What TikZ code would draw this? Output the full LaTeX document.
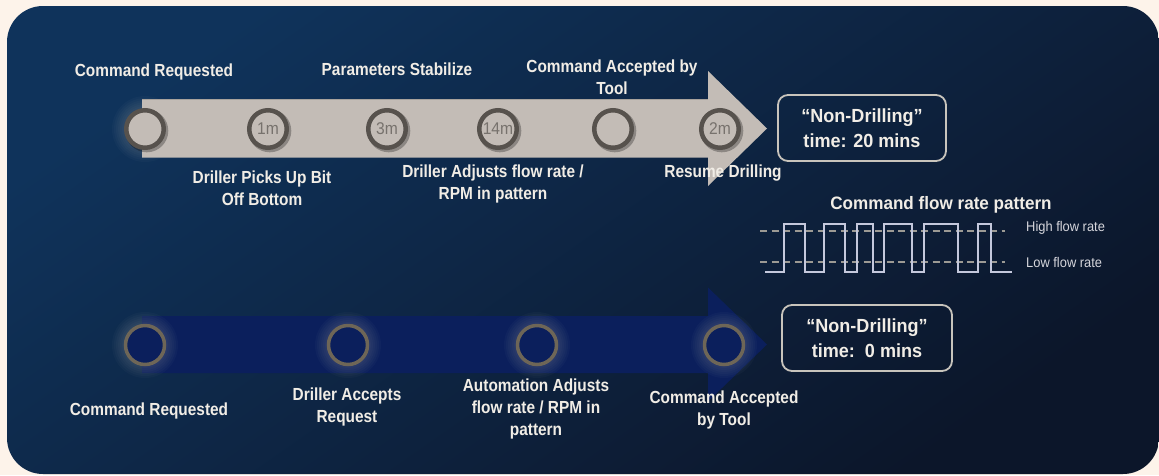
\documentclass[tikz,border=0pt]{standalone}
\usepackage{fontspec}
\setmainfont{Liberation Sans}
\newfontfamily\labfont[FakeStretch=0.88]{Liberation Sans}
\newfontfamily\boxfont[FakeStretch=0.95]{Liberation Sans}
\newfontfamily\smallfont[FakeStretch=0.92]{Liberation Sans}

\definecolor{pagebg}{HTML}{FDF3EA}
\definecolor{navyA}{HTML}{0F335B}
\definecolor{navyM}{HTML}{13253F}
\definecolor{navyB}{HTML}{0C162A}
\definecolor{bar}{HTML}{C3BCB6}
\definecolor{barEdge}{HTML}{A8A29C}
\definecolor{ringTop}{HTML}{57524D}
\definecolor{ringTxt}{HTML}{77726D}
\definecolor{blueBar}{HTML}{0B1F5C}
\definecolor{ringBot}{HTML}{6E6657}
\definecolor{labelc}{HTML}{F1EDE6}
\definecolor{wavec}{HTML}{C4C8DC}
\definecolor{dashc}{HTML}{9C9A94}
\definecolor{boxline}{HTML}{C8C4BC}
\definecolor{smalltxt}{HTML}{D6D6DC}

\tikzset{
  lab/.style={font=\labfont\bfseries\fontsize{17.5}{22}\selectfont, text=labelc, align=center, inner sep=0},
  ringT/.style={circle, draw=ringTop, line width=4.5, fill=bar, minimum size=37.5, inner sep=0,
                font=\smallfont\fontsize{17}{18}\selectfont, text=ringTxt},
  ringB/.style={circle, draw=ringBot, line width=3.5, fill=blueBar, minimum size=39, inner sep=0},
  ndt/.style={draw=boxline, line width=1.8, rounded corners=10, minimum width=168, minimum height=66,
              align=center, text=labelc, font=\boxfont\bfseries\fontsize{19}{25.5}\selectfont},
  flowlab/.style={anchor=west, inner sep=0, text=smalltxt, font=\smallfont\fontsize{14}{16}\selectfont},
  ratedash/.style={dashc, line width=1.8, dash pattern=on 7 off 4.5},
}

% soft halo behind a ring
\newcommand\ringglow[2]{%
  \foreach \r in {33,31,29,27,25,23}
    \fill[gray!60!white, opacity=0.035] (#1,#2) circle (\r);}
% soft shadow below a ring
\newcommand\ringshade[2]{%
  \fill[black, opacity=0.28] (#1+1.8,#2+1.8) circle (21.5);}

\begin{document}
\begin{tikzpicture}[x=1pt, y=-1pt]
  \useasboundingbox (0,0) rectangle (1159,475);
  \fill[pagebg] (0,0) rectangle (1159,475);

  % dark panel
  \shade[top color=navyA, middle color=navyM, bottom color=navyB, shading angle=35, rounded corners=36]
    (7,6) rectangle (1159,474);

  % ---------------- manual sequence ----------------
  \ringglow{145}{129}
  \fill[bar] (142,99.5) -- (708,99.5) -- (708,71) -- (767,128.5) -- (708,186)
             -- (708,157.5) -- (142,157.5) -- cycle;
  \draw[barEdge, line width=0.8] (142,99.5) -- (708,99.5);

  \foreach \x in {145,268,387,498,613,720} { \ringshade{\x}{129} }
  \node[ringT] (m1) at (145,129) {};
  \node[ringT] (m2) at (268,129) {1m};
  \node[ringT] (m3) at (387,129) {3m};
  \node[ringT] (m4) at (498,129) {14m};
  \node[ringT] (m5) at (613,129) {};
  \node[ringT] (m6) at (720,129) {2m};

  \node[lab] (mt1) at (154,72) {Command Requested};
  \node[lab] (mt2) at (397,69) {Parameters Stabilize};
  \node[lab] (mt3) at (612,77.5) {Command Accepted by\\Tool};
  \node[lab] (mb1) at (262,188) {Driller Picks Up Bit\\Off Bottom};
  \node[lab] (mb2) at (493,184) {Driller Adjusts flow rate /\\RPM in pattern};
  \node[lab] (mb3) at (723,173) {Resume Drilling};

  \node[ndt] (ndtA) at (862,128) {“Non-Drilling”\\time: 20 mins};

  % ---------------- flow rate pattern ----------------
  \node[font=\boxfont\bfseries\fontsize{18}{20}\selectfont, text=labelc, inner sep=0]
    (pat) at (941,205) {Command flow rate pattern};
  \draw[ratedash] (760,231) -- (1005,231);
  \draw[ratedash] (760,262) -- (1005,262);
  \draw[wavec, line width=1.4]
    (765,272) -- (784,272) -- (784,224) -- (805,224) -- (805,272) -- (824,272)
    -- (824,224) -- (845,224) -- (845,272) -- (857,272) -- (857,224) -- (873,224)
    -- (873,272) -- (884,272) -- (884,224) -- (912,224) -- (912,272) -- (924,272)
    -- (924,224) -- (958,224) -- (958,272) -- (978,272) -- (978,224) -- (991,224)
    -- (991,272) -- (1012,272);
  \node[flowlab] (hi) at (1026,228) {High flow rate};
  \node[flowlab] (lo) at (1026,262) {Low flow rate};

  % ---------------- automated sequence ----------------
  \fill[blueBar] (142,316) -- (708,316) -- (708,287.5) -- (767,344.5) -- (708,401.5)
                 -- (708,373) -- (142,373) -- cycle;
  \foreach \x in {145,348,537,724} { \ringglow{\x}{345} }
  \node[ringB] (a1) at (145,345) {};
  \node[ringB] (a2) at (348,345) {};
  \node[ringB] (a3) at (537,345) {};
  \node[ringB] (a4) at (724,345) {};

  \node[lab] (at1) at (149,411) {Command Requested};
  \node[lab] (at2) at (347,406.5) {Driller Accepts\\Request};
  \node[lab] (at3) at (536,409) {Automation Adjusts\\flow rate / RPM in\\pattern};
  \node[lab] (at4) at (724,410) {Command Accepted\\by Tool};

  \node[ndt, minimum width=170] (ndtB) at (867,338) {“Non-Drilling”\\time:\ \ 0 mins};
\end{tikzpicture}
\end{document}
